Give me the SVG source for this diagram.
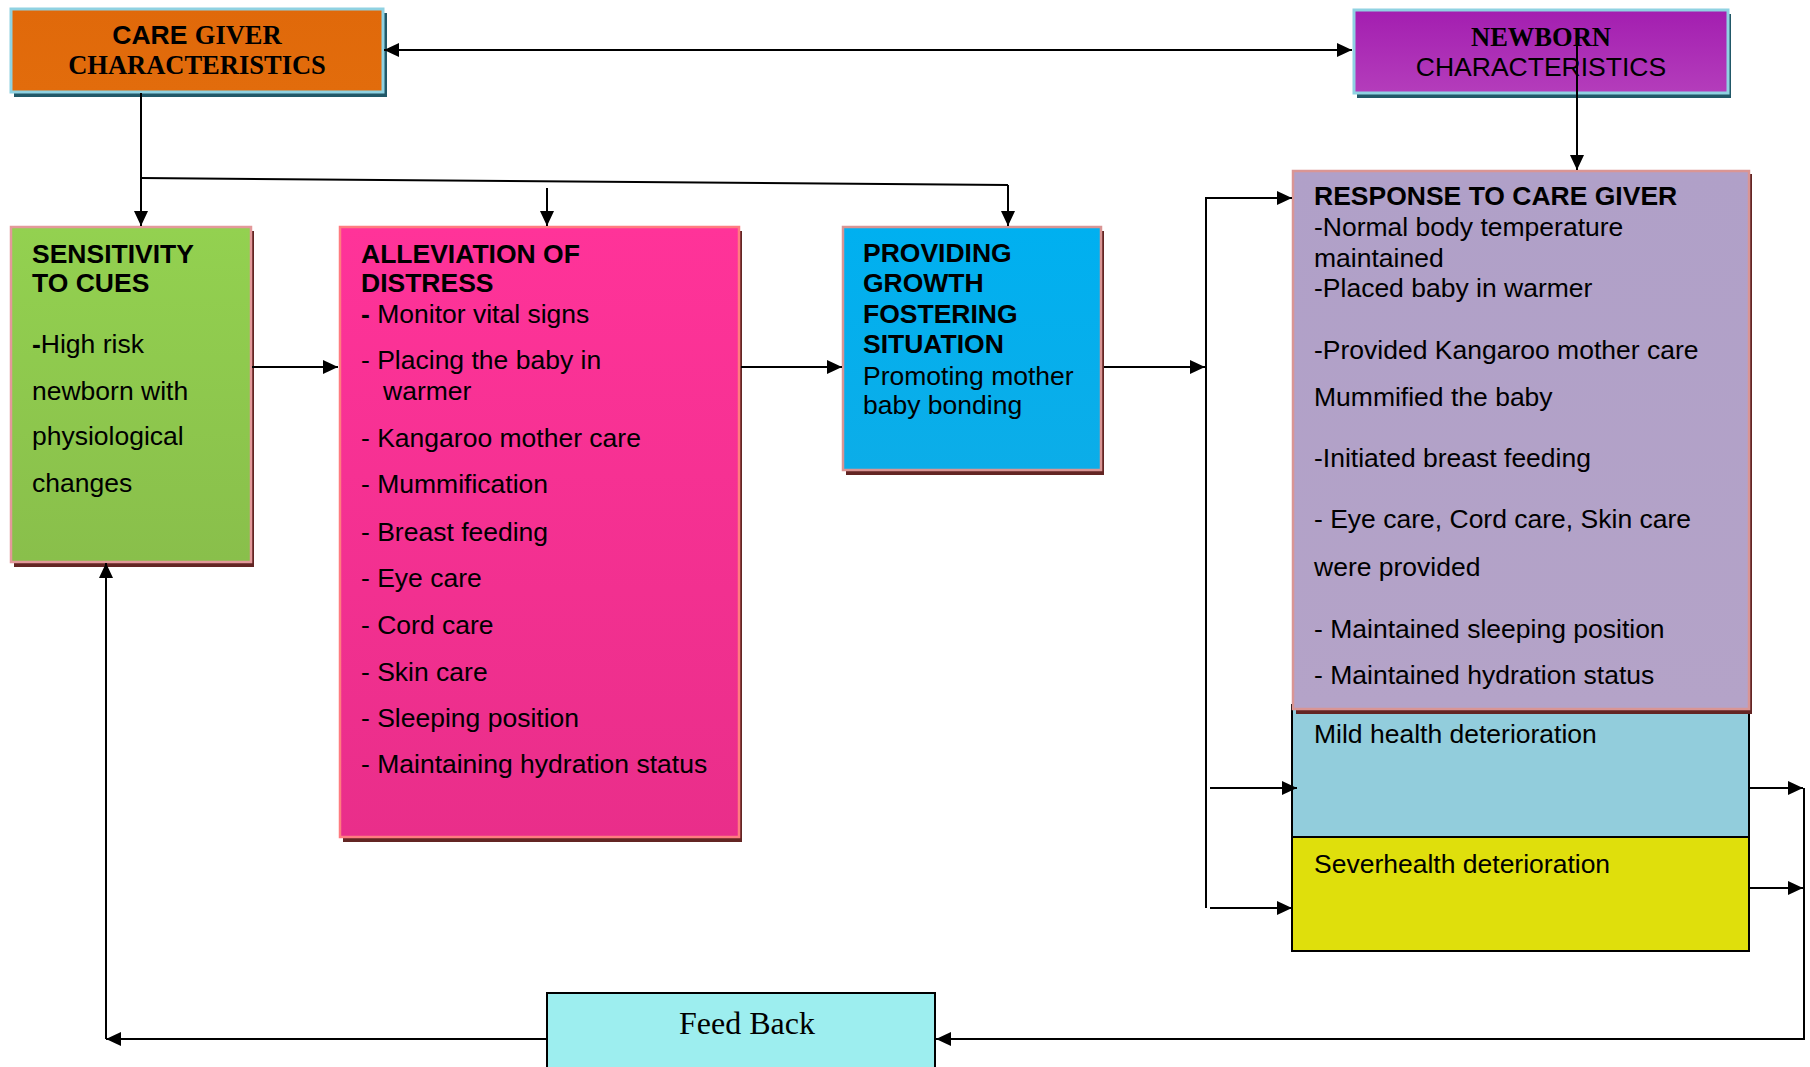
<svg xmlns="http://www.w3.org/2000/svg" width="1810" height="1067" viewBox="0 0 1810 1067">
<defs>
<linearGradient id="gOrange" x1="0" y1="0" x2="0" y2="1"><stop offset="0" stop-color="#e0690a"/><stop offset="1" stop-color="#e26c0c"/></linearGradient>
<linearGradient id="gPurple" x1="0" y1="0" x2="0" y2="1"><stop offset="0" stop-color="#a31eb0"/><stop offset="1" stop-color="#b43dbb"/></linearGradient>
<linearGradient id="gGreen" x1="0" y1="0" x2="0" y2="1"><stop offset="0" stop-color="#93d150"/><stop offset="1" stop-color="#89bf4b"/></linearGradient>
<linearGradient id="gPink" x1="0" y1="0" x2="0" y2="1"><stop offset="0" stop-color="#ff3399"/><stop offset="1" stop-color="#e92e8a"/></linearGradient>
<linearGradient id="gBlue" x1="0" y1="0" x2="0" y2="1"><stop offset="0" stop-color="#00b0f0"/><stop offset="1" stop-color="#0cade8"/></linearGradient>
<linearGradient id="gLav" x1="0" y1="0" x2="0" y2="1"><stop offset="0" stop-color="#b0a0c8"/><stop offset="1" stop-color="#b4a3c8"/></linearGradient>
<marker id="arr" viewBox="0 0 15 14" refX="15" refY="7" markerWidth="15" markerHeight="14" markerUnits="userSpaceOnUse" orient="auto-start-reverse">
<path d="M0,0 L15,7 L0,14 z" fill="#000"/>
</marker>
</defs>
<style>
.sans{font-family:"Liberation Sans",Arial,sans-serif;font-size:26.5px;fill:#000}
.serif{font-family:"Liberation Serif","Times New Roman",serif;fill:#000}
.b{font-weight:bold}
.ln{stroke:#000;stroke-width:2;fill:none}
.la{stroke:#000;stroke-width:2;fill:none;marker-end:url(#arr)}
.shT{fill:#215868}
.shM{fill:#632523}
</style>
<rect width="1810" height="1067" fill="#fff"/>

<g id="care-giver">
<rect class="shT" x="14" y="13" width="373" height="84"/>
<rect x="11" y="9" width="372" height="83" fill="url(#gOrange)" stroke="#8fd2e2" stroke-width="3"/>
<text x="197" y="44" text-anchor="middle"><tspan class="sans b">CARE </tspan><tspan class="serif b" font-size="26.5">GIVER</tspan></text>
<text class="serif b" x="197" y="74" text-anchor="middle" font-size="26.5">CHARACTERISTICS</text>
</g>

<g id="newborn">
<rect class="shT" x="1357" y="14" width="374" height="84"/>
<rect x="1354" y="10" width="374" height="83" fill="url(#gPurple)" stroke="#8fd2e2" stroke-width="3"/>
<text class="serif b" x="1541" y="46" text-anchor="middle" font-size="26.5">NEWBORN</text>
<text class="sans" x="1541" y="76" text-anchor="middle">CHARACTERISTICS</text>
</g>

<g id="sensitivity">
<rect class="shM" x="14" y="231" width="240" height="336"/>
<rect x="11" y="227" width="240" height="335" fill="url(#gGreen)" stroke="#e3999a" stroke-width="2.5"/>
<text class="sans b" x="32" y="263">SENSITIVITY</text>
<text class="sans b" x="32" y="292">TO CUES</text>
<text class="sans" x="32" y="353"><tspan class="b">-</tspan>High risk</text>
<text class="sans" x="32" y="400">newborn with</text>
<text class="sans" x="32" y="445">physiological</text>
<text class="sans" x="32" y="492">changes</text>
</g>

<g id="alleviation">
<rect class="shM" x="343" y="231" width="399" height="611"/>
<rect x="340" y="227" width="399" height="610" fill="url(#gPink)" stroke="#ff7c80" stroke-width="2.5"/>
<text class="sans b" x="361" y="263">ALLEVIATION OF</text>
<text class="sans b" x="361" y="292">DISTRESS</text>
<text class="sans" x="361" y="323"><tspan class="b">-</tspan> Monitor vital signs</text>
<text class="sans" x="361" y="369">- Placing the baby in</text>
<text class="sans" x="383" y="400">warmer</text>
<text class="sans" x="361" y="447">- Kangaroo mother care</text>
<text class="sans" x="361" y="493">- Mummification</text>
<text class="sans" x="361" y="541">- Breast feeding</text>
<text class="sans" x="361" y="587">- Eye care</text>
<text class="sans" x="361" y="634">- Cord care</text>
<text class="sans" x="361" y="681">- Skin care</text>
<text class="sans" x="361" y="727">- Sleeping position</text>
<text class="sans" x="361" y="773">- Maintaining hydration status</text>
</g>

<g id="providing">
<rect class="shM" x="846" y="231" width="258" height="244"/>
<rect x="843" y="227" width="258" height="243" fill="url(#gBlue)" stroke="#d99594" stroke-width="2.5"/>
<text class="sans b" x="863" y="262">PROVIDING</text>
<text class="sans b" x="863" y="292">GROWTH</text>
<text class="sans b" x="863" y="323">FOSTERING</text>
<text class="sans b" x="863" y="353">SITUATION</text>
<text class="sans" x="863" y="385">Promoting mother</text>
<text class="sans" x="863" y="414">baby bonding</text>
</g>

<g id="mild">
<rect x="1292" y="705" width="457" height="132" fill="#92cddc" stroke="#000" stroke-width="2"/>
<text class="sans" x="1314" y="743">Mild health deterioration</text>
</g>

<g id="severe">
<rect x="1292" y="837" width="457" height="114" fill="#dfdf0c" stroke="#000" stroke-width="2"/>
<text class="sans" x="1314" y="873">Severhealth deterioration</text>
</g>

<g id="response">
<rect class="shM" x="1296" y="174" width="456" height="540"/>
<rect x="1293" y="171" width="456" height="538" fill="url(#gLav)" stroke="#d99594" stroke-width="2.5"/>
<text class="sans b" x="1314" y="205">RESPONSE TO CARE GIVER</text>
<text class="sans" x="1314" y="236">-Normal body temperature</text>
<text class="sans" x="1314" y="267">maintained</text>
<text class="sans" x="1314" y="297">-Placed baby in warmer</text>
<text class="sans" x="1314" y="359">-Provided Kangaroo mother care</text>
<text class="sans" x="1314" y="406">Mummified the baby</text>
<text class="sans" x="1314" y="467">-Initiated breast feeding</text>
<text class="sans" x="1314" y="528">- Eye care, Cord care, Skin care</text>
<text class="sans" x="1314" y="576">were provided</text>
<text class="sans" x="1314" y="638">- Maintained sleeping position</text>
<text class="sans" x="1314" y="684">- Maintained hydration status</text>
</g>

<g id="feedback">
<rect x="547" y="993" width="388" height="80" fill="#9deeef" stroke="#000" stroke-width="2"/>
<text class="serif" x="747" y="1034" text-anchor="middle" font-size="32">Feed Back</text>
</g>

<g id="connectors">
<line class="la" x1="384" y1="50" x2="1352" y2="50" marker-start="url(#arr)"/>
<line class="la" x1="1577" y1="45" x2="1577" y2="170"/>
<line class="la" x1="141" y1="93" x2="141" y2="226"/>
<line class="ln" x1="141" y1="178" x2="1008" y2="185"/>
<line class="la" x1="547" y1="188" x2="547" y2="226"/>
<line class="la" x1="1008" y1="185" x2="1008" y2="226"/>
<line class="la" x1="252" y1="367" x2="338" y2="367"/>
<line class="la" x1="741" y1="367" x2="842" y2="367"/>
<line class="la" x1="1104" y1="367" x2="1205" y2="367"/>
<line class="ln" x1="1206" y1="197" x2="1206" y2="908"/>
<line class="la" x1="1206" y1="198" x2="1292" y2="198"/>
<line class="la" x1="1210" y1="788" x2="1297" y2="788"/>
<line class="la" x1="1210" y1="908" x2="1292" y2="908"/>
<line class="la" x1="1749" y1="788" x2="1803" y2="788"/>
<line class="la" x1="1749" y1="888" x2="1803" y2="888"/>
<polyline class="la" points="1804,788 1804,1039 936,1039"/>
<line class="la" x1="547" y1="1039" x2="106" y2="1039"/>
<line class="la" x1="106" y1="1039" x2="106" y2="563"/>
</g>
</svg>
